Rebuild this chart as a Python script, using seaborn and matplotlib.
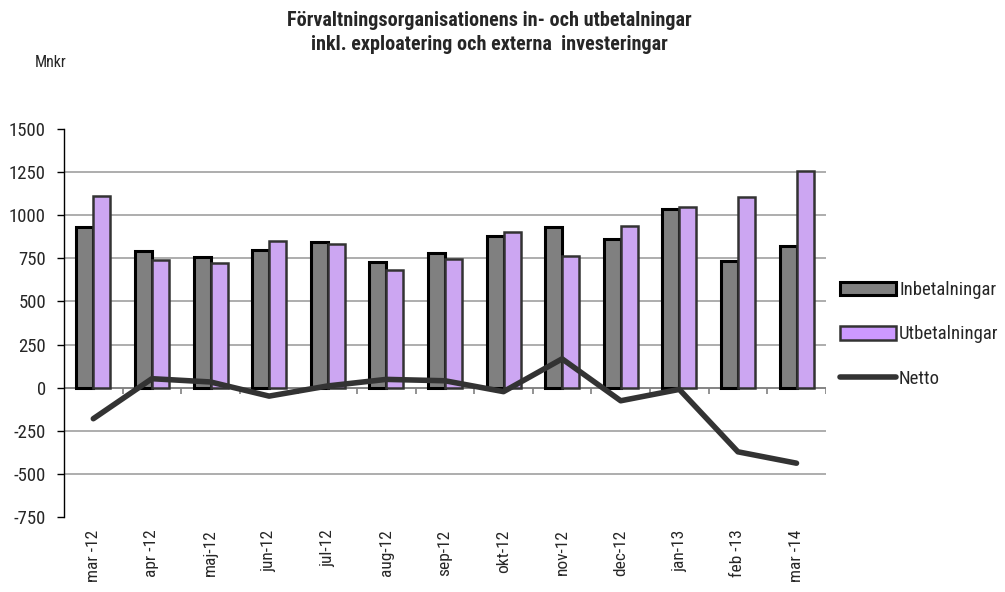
import numpy as np
import pandas as pd
import seaborn as sns
import matplotlib.pyplot as plt
from matplotlib.patches import Patch
from matplotlib.lines import Line2D

months = ["mar -12", "apr -12", "maj-12", "jun-12", "jul-12", "aug-12", "sep-12",
          "okt-12", "nov-12", "dec-12", "jan-13", "feb -13", "mar -14"]
inbetalningar = [930, 794, 756, 798, 845, 728, 781, 878, 930, 864, 1038, 734, 821]
utbetalningar = [1110, 740, 721, 849, 831, 682, 748, 901, 763, 940, 1048, 1106, 1259]
netto = [-180, 52, 33, -49, 10, 48, 40, -23, 167, -76, -10, -372, -438]
yticks = [-750, -500, -250, 0, 250, 500, 750, 1000, 1250, 1500]

sns.set_style("white")
plt.rcParams["font.family"] = ["Roboto Condensed", "DejaVu Sans"]

df = pd.DataFrame({
    "month": months * 2,
    "value": inbetalningar + utbetalningar,
    "serie": ["Inbetalningar"] * len(months) + ["Utbetalningar"] * len(months),
})

fig = plt.figure(figsize=(10.05, 5.92), dpi=100)
ax = fig.add_axes([0.0637, 0.1267, 0.758, 0.6554])

sns.barplot(data=df, x="month", y="value", hue="serie", order=months,
            palette={"Inbetalningar": "#808080", "Utbetalningar": "#CC99FF"},
            width=0.58, ax=ax, legend=False, zorder=3)
for i, bar in enumerate(ax.patches):
    if i < len(months):
        bar.set_edgecolor("black")
        bar.set_linewidth(2.2)
    else:
        bar.set_edgecolor("#333333")
        bar.set_linewidth(1.8)

sns.lineplot(x=np.arange(len(months)), y=netto, color="#333333", linewidth=4,
             ax=ax, zorder=4)

ax.set_xlim(-0.5, len(months) - 0.5)
ax.set_ylim(-750, 1500)

# gridlines without the outer limits
ax.hlines(yticks[1:-1], -0.5, len(months) - 0.5, color="#a0a0a0", linewidth=1.2, zorder=1)
ax.axhline(0, color="#808080", linewidth=1.2, zorder=2)
ax.vlines(np.arange(len(months) + 1) - 0.5, -35, 0, color="#808080", linewidth=1.2, zorder=2)

ax.set_yticks(yticks)
ax.set_yticklabels([str(v) for v in yticks], fontsize=13.5)
ax.tick_params(axis="y", direction="out", length=5, width=1, color="black", pad=8, left=True)
ax.set_xticks(np.arange(len(months)))
ax.set_xticklabels(months, rotation=90, fontsize=12.5, va="top")
ax.tick_params(axis="x", length=0, pad=9)
ax.set_xlabel("")
ax.set_ylabel("")

for side in ["top", "right", "bottom"]:
    ax.spines[side].set_visible(False)
ax.spines["left"].set_color("black")
ax.spines["left"].set_linewidth(1)

fig.text(0.487, 0.966, "Förvaltningsorganisationens in- och utbetalningar",
         ha="center", va="center", fontsize=14.5, fontweight="bold")
fig.text(0.487, 0.925, "inkl. exploatering och externa  investeringar",
         ha="center", va="center", fontsize=14.5, fontweight="bold")
fig.text(0.035, 0.895, "Mnkr", ha="left", va="center", fontsize=11.5)

handles = [
    Patch(facecolor="#808080", edgecolor="black", linewidth=2.2),
    Patch(facecolor="#CC99FF", edgecolor="#333333", linewidth=1.8),
    Line2D([0], [0], color="#333333", linewidth=4),
]
fig.legend(handles, ["Inbetalningar", "Utbetalningar", "Netto"],
           loc="center left", bbox_to_anchor=(0.819, 0.435), frameon=False,
           fontsize=13.5, handlelength=3.0, handleheight=0.72, handletextpad=0.15,
           labelspacing=1.4)

fig.savefig("out.png", dpi=100)
